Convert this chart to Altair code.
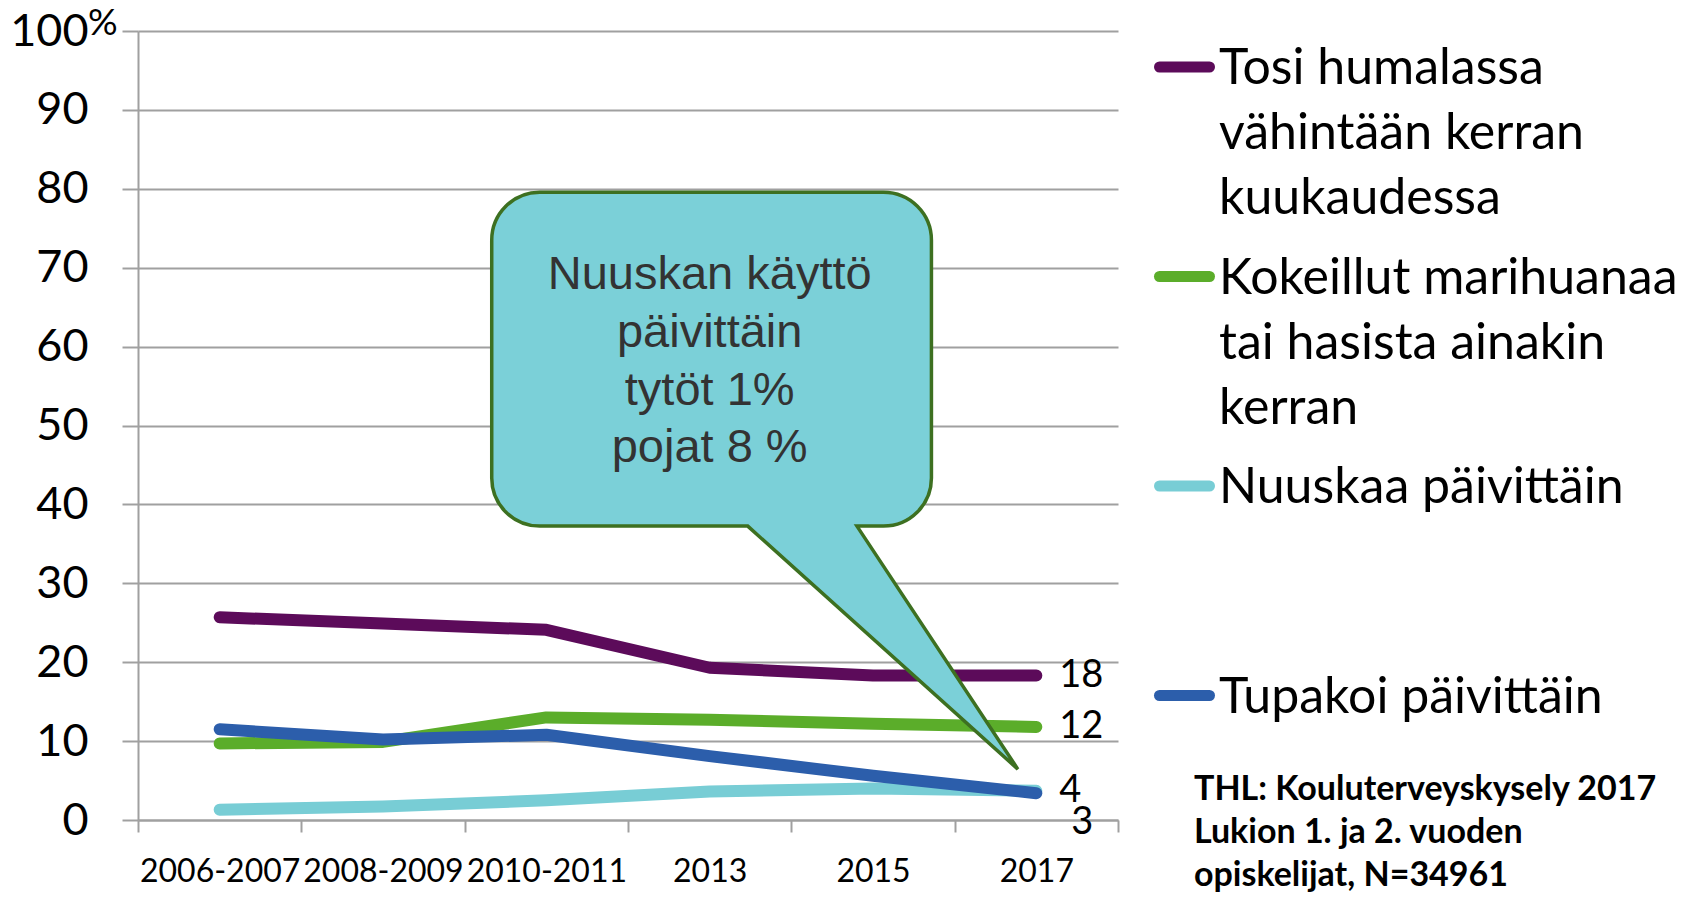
import altair as alt
import pandas as pd

# ---------------- data ----------------
periods = ["2006-2007", "2008-2009", "2010-2011", "2013", "2015", "2017"]
series = [
    "Tosi humalassa vähintään kerran kuukaudessa",
    "Kokeillut marihuanaa tai hasista ainakin kerran",
    "Nuuskaa päivittäin",
    "Tupakoi päivittäin",
]
humala = [25.7, 24.9, 24.1, 19.3, 18.3, 18.3]
marihuana = [9.7, 9.9, 13.0, 12.7, 12.2, 11.8]
nuuska = [1.3, 1.7, 2.5, 3.6, 4.0, 3.7]
tupakka = [11.5, 10.2, 10.8, 8.1, 5.6, 3.4]
end_labels = ["18", "12", "4", "3"]
colors = ["#5C0B5A", "#5BAD2A", "#78CDD5", "#2C5EAB"]
legend_lines = [
    ["Tosi humalassa", "vähintään kerran", "kuukaudessa"],
    ["Kokeillut marihuanaa", "tai hasista ainakin", "kerran"],
    ["Nuuskaa päivittäin"],
    ["Tupakoi päivittäin"],
]
callout_lines = ["Nuuskan käyttö", "päivittäin", "tytöt 1%", "pojat 8 %"]
callout_anchor = {"period": "2013", "value": 67.3}
callout_tip = {"period": "2017", "value": 6.45}
note_lines = ["THL: Kouluterveyskysely 2017", "Lukion 1. ja 2. vuoden", "opiskelijat, N=34961"]
y_ticks = list(range(0, 101, 10))

# ---------------- tables ----------------
all_vals = [humala, marihuana, nuuska, tupakka]
rows = []
for s, vals in zip(series, all_vals):
    for p, v in zip(periods, vals):
        rows.append({"period": p, "series": s, "value": v})
df = pd.DataFrame(rows)

end_df = pd.DataFrame({
    "period": [periods[-1]] * len(series),
    "series": series,
    "value": [v[-1] for v in all_vals],
    "label": end_labels,
})

legend_df = pd.DataFrame({
    "series": series,
    "idx": list(range(len(series))),
    "lines": legend_lines,
})

GRID = "#A0A0A0"
W, H = 980, 789

x_scale = alt.Scale(type="band", domain=periods, paddingInner=0, paddingOuter=0)
y_scale = alt.Scale(domain=[0, 100], nice=False, zero=True)
color_scale = alt.Scale(domain=series, range=colors)


def X(axis=False):
    if axis:
        return alt.X(
            "period:N", sort=periods, scale=x_scale, bandPosition=0.5, title=None,
            axis=alt.Axis(
                labelFont="Lato", labelFontSize=32, labelColor="black",
                labelPadding=24, labelOverlap=False, labelLimit=400, labelAngle=0,
                tickBand="extent", tickSize=12, tickColor=GRID, tickWidth=2,
                domainColor=GRID, domainWidth=2, grid=False,
            ),
        )
    return alt.X("period:N", sort=periods, scale=x_scale, bandPosition=0.5, title=None)


def Y(axis=False):
    if axis:
        return alt.Y(
            "value:Q", scale=y_scale, title=None,
            axis=alt.Axis(
                values=y_ticks, labelFont="Lato", labelFontSize=45, labelColor="black",
                labelPadding=34, tickSize=16, tickColor=GRID, tickWidth=2,
                domainColor=GRID, domainWidth=2, grid=True, gridColor=GRID,
                gridWidth=2,
            ),
        )
    return alt.Y("value:Q", scale=y_scale, title=None)


lines = alt.Chart(df).mark_line(strokeWidth=12, strokeCap="round", strokeJoin="round").encode(
    x=X(True),
    y=Y(True),
    color=alt.Color("series:N", sort=series, scale=color_scale, legend=None),
)

lab_main = alt.Chart(end_df).transform_filter(
    alt.datum.series != series[3]
).mark_text(font="Lato", fontSize=38, color="black", align="left", baseline="middle", dx=23).encode(
    x=X(), y=Y(), text="label:N"
)
lab_low = alt.Chart(end_df).transform_filter(
    alt.datum.series == series[3]
).mark_text(font="Lato", fontSize=38, color="black", align="left", baseline="middle", dx=35, dy=30).encode(
    x=X(), y=Y(), text="label:N"
)

# callout bubble: pointer tip sits at the anchor point (size=4 -> path units are pixels)
bubble_path = (
    "M -18.5 0 L -288.6 -243 L -496.6 -243 A 48 48 0 0 1 -544.6 -291 "
    "L -544.6 -528.9 A 48 48 0 0 1 -496.6 -576.9 L -152.9 -576.9 "
    "A 48 48 0 0 1 -104.9 -528.9 L -104.9 -291 A 48 48 0 0 1 -152.9 -243 "
    "L -179.4 -243 Z"
)
bubble = alt.Chart(pd.DataFrame([callout_tip])).mark_point(
    shape=bubble_path, size=4, filled=True, fill="#7BD0D8", fillOpacity=1,
    stroke="#3D7021", strokeWidth=3.5, opacity=1,
).encode(x=X(), y=Y())

callout_df = pd.DataFrame([{**callout_anchor, "text": callout_lines}])
callout_text = alt.Chart(callout_df).mark_text(
    font="Liberation Sans", fontSize=47, color="#333333", align="center",
    baseline="alphabetic", lineHeight=57.8,
).encode(x=X(), y=Y(), text="text")

pct = alt.Chart(pd.DataFrame({"value": [100]})).mark_text(
    text="%", font="Lato", fontSize=37, color="black", align="left", baseline="alphabetic", dy=4,
).encode(x=alt.value(-50), y=Y())

note = alt.Chart(pd.DataFrame({"a": [0]})).mark_text(
    text=note_lines, font="Lato", fontSize=34, fontWeight="bold", color="black",
    align="left", baseline="alphabetic", lineHeight=43,
).encode(x=alt.value(1056), y=alt.value(769))

# legend (drawn as marks; entries laid out by index)
leg_base = alt.Chart(legend_df).transform_calculate(ly="36 + datum.idx * 209.5")
leg_sym = leg_base.mark_rule(strokeWidth=11, strokeCap="round").encode(
    x=alt.value(1021.5), x2=alt.value(1071.5),
    y=alt.Y("ly:Q", scale=None),
    color=alt.Color("series:N", sort=series, scale=color_scale, legend=None),
)
leg_txt = leg_base.mark_text(
    font="Lato", fontSize=50, color="black", align="left", baseline="alphabetic",
    lineHeight=65, dy=17,
).encode(x=alt.value(1081), y=alt.Y("ly:Q", scale=None), text="lines")

chart = alt.layer(
    lines, lab_main, lab_low, bubble, callout_text, pct, note, leg_sym, leg_txt
).properties(
    width=W, height=H, autosize=alt.AutoSizeParams(type="none"),
    padding={"left": 130, "top": 23, "right": 560, "bottom": 77},
    background="white",
).configure_view(stroke=None)

chart.save("out.html", embed_options={"renderer": "svg", "actions": False})
